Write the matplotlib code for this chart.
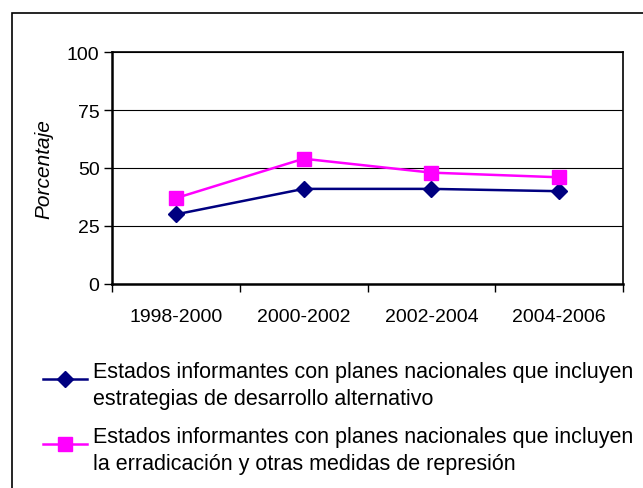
import matplotlib.pyplot as plt
from matplotlib.patches import Rectangle
from matplotlib.legend_handler import HandlerLine2D

plt.rcParams['font.family'] = ['Liberation Sans', 'DejaVu Sans']

periodos = ['1998-2000', '2000-2002', '2002-2004', '2004-2006']
desarrollo = [30, 41, 41, 40]
erradicacion = [37, 54, 48, 46]
etiquetas = ['Estados informantes con planes nacionales que incluyen\nestrategias de desarrollo alternativo',
             'Estados informantes con planes nacionales que incluyen\nla erradicación y otras medidas de represión']


# legend handle lined up with the first line of the label
class PrimeraLinea(HandlerLine2D):
    def create_artists(self, legend, orig_handle, xdescent, ydescent, width, height, fontsize, trans):
        return super().create_artists(legend, orig_handle, xdescent, ydescent - 0.62 * fontsize,
                                      width, height, fontsize, trans)


fig = plt.figure(figsize=(6.43, 4.89), dpi=100)
ax = fig.add_axes([112 / 643, 1 - 285 / 489, 511 / 643, 232 / 489])

x = range(len(periodos))
ax.plot(x, desarrollo, color='#000080', lw=1.8, marker='D', ms=8, label=etiquetas[0])
ax.plot(x, erradicacion, color='#FF00FF', lw=1.8, marker='s', ms=10.5, label=etiquetas[1])

ax.set_xlim(-0.5, 3.5)
ax.set_ylim(0, 100)
ax.set_yticks([0, 25, 50, 75, 100])
ax.yaxis.grid(True, color='black', lw=0.8)
ax.set_axisbelow(True)
ax.set_xticks([-0.5, 0.5, 1.5, 2.5, 3.5])
ax.set_xticklabels([])
ax.set_xticks(list(x), minor=True)
ax.set_xticklabels(periodos, minor=True)
ax.tick_params(axis='x', which='major', length=6, width=1)
ax.tick_params(axis='x', which='minor', length=0, pad=17, labelsize=14)
ax.tick_params(axis='y', length=6, width=1, labelsize=14, pad=3)
for s in ax.spines.values():
    s.set_linewidth(1.2)
    s.set_color('black')
ax.spines['left'].set_linewidth(1.8)
ax.spines['bottom'].set_linewidth(1.8)
ax.set_ylabel('Porcentaje', style='italic', fontsize=15, labelpad=10)

leg = fig.legend(loc='upper left', bbox_to_anchor=(43 / 643, 1 - 362 / 489), frameon=False,
                 borderaxespad=0, borderpad=0,
                 fontsize=15.5, handlelength=2.05, handletextpad=0.28, labelspacing=0.8,
                 handler_map={plt.Line2D: PrimeraLinea()})
for t in leg.get_texts():
    t.set_linespacing(1.36)

fig.patches.append(Rectangle((12 / 643, -0.1), 1.2, 1 - 14 / 489 + 0.1, transform=fig.transFigure,
                             fill=False, edgecolor='black', lw=1.2, clip_on=False))

fig.savefig('out.png', dpi=100)
